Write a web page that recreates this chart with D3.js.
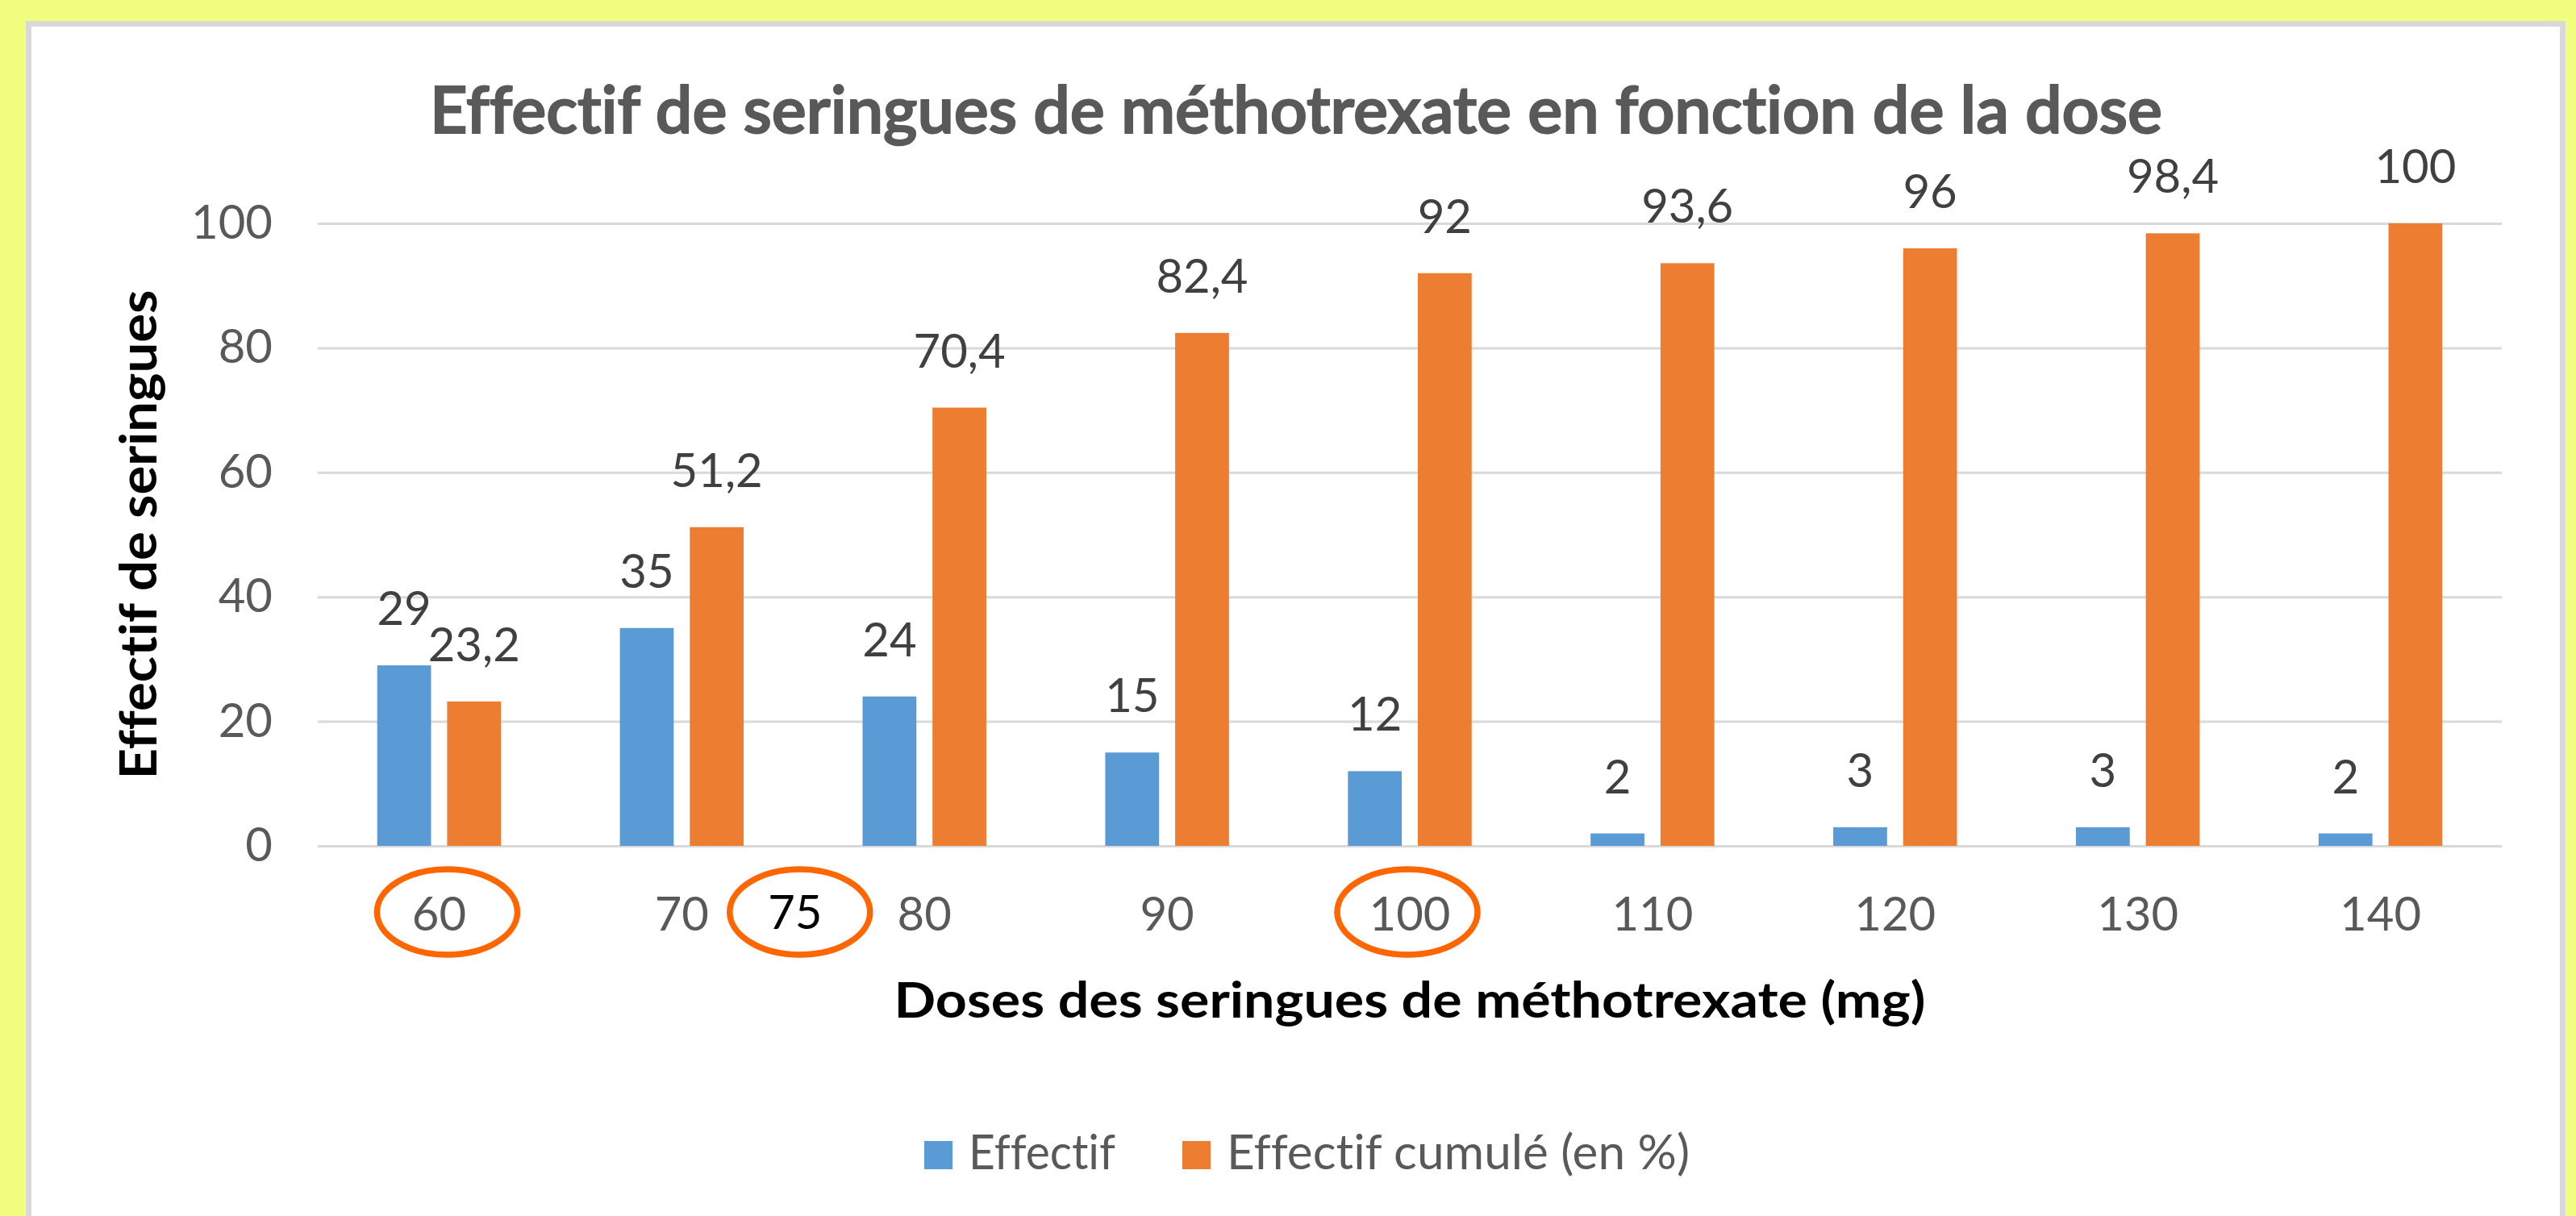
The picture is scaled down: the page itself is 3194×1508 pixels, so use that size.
<!DOCTYPE html>
<html>
<head>
<meta charset="utf-8">
<script src="https://cdn.jsdelivr.net/npm/d3@7"></script>
<style>
  html, body { margin: 0; padding: 0; background: #f3fe80; }
  svg { display: block; }
  svg text { font-variant-ligatures: none; font-feature-settings: "liga" 0; }
</style>
</head>
<body>
<div id="canvas"></div>
<script>
// données
const doses = ["60", "70", "80", "90", "100", "110", "120", "130", "140"];
const effectif = [29, 35, 24, 15, 12, 2, 3, 3, 2];
const effectifCumule = [23.2, 51.2, 70.4, 82.4, 92, 93.6, 96, 98.4, 100];
const seriesNames = ["Effectif", "Effectif cumulé (en %)"];
const yTicks = [0, 20, 40, 60, 80, 100];
// annotations ajoutées à la main (cercles orange)
const circledDoses = ["60", "100"];
const extraDose = "75";

const W = 3194, H = 1508;
const colors = { Effectif: "#5b9bd5", "Effectif cumulé (en %)": "#ed7d31" };
const FONT = "Lato, 'Open Sans', sans-serif";

const svg = d3.select("#canvas").append("svg")
    .attr("width", W)
    .attr("height", H)
    .attr("viewBox", "0 0 " + W + " " + H);

// fond jaune + cadre du graphique
svg.append("rect").attr("width", W).attr("height", H).attr("fill", "#f3fe80");
svg.append("rect")
    .attr("x", 35.5).attr("y", 29.5)
    .attr("width", 3142).attr("height", 1520)
    .attr("fill", "#ffffff")
    .attr("stroke", "#d9d9d9")
    .attr("stroke-width", 7);

const plot = { left: 394, right: 3102, top: 277, bottom: 1049 };

const x0 = d3.scaleBand()
    .domain(doses)
    .range([plot.left, plot.right])
    .paddingInner(0.49)
    .paddingOuter(0.245);

const x1 = d3.scaleBand()
    .domain(seriesNames)
    .range([0, x0.bandwidth()])
    .paddingInner(0.23);

const y = d3.scaleLinear()
    .domain([0, 100])
    .range([plot.bottom, plot.top]);

const rows = doses.map((d, i) => ({
    dose: d,
    values: [
        { key: seriesNames[0], value: effectif[i] },
        { key: seriesNames[1], value: effectifCumule[i] }
    ]
}));

// grille horizontale + étiquettes y
const yAxis = svg.append("g")
    .attr("class", "axis axis--y")
    .attr("transform", "translate(" + plot.left + ",0)")
    .call(d3.axisLeft(y).tickValues(yTicks).tickSize(-(plot.right - plot.left)).tickPadding(56));
yAxis.select(".domain").remove();
yAxis.selectAll("line")
    .attr("stroke", "#d9d9d9")
    .attr("stroke-width", 3);
yAxis.selectAll("text")
    .attr("fill", "#595959")
    .attr("font-family", FONT)
    .attr("font-size", "58px");

// axe x (étiquettes seulement)
const xAxis = svg.append("g")
    .attr("class", "axis axis--x")
    .attr("transform", "translate(0," + plot.bottom + ")")
    .call(d3.axisBottom(x0).tickSize(0).tickPadding(0));
xAxis.select(".domain").remove();
xAxis.selectAll("text")
    .attr("dy", null)
    .attr("y", 105)
    .attr("fill", "#595959")
    .attr("font-family", FONT)
    .attr("font-size", "58px");

// barres
const groups = svg.append("g").selectAll("g")
    .data(rows)
    .enter().append("g")
    .attr("transform", d => "translate(" + x0(d.dose) + ",0)");

groups.selectAll("rect")
    .data(d => d.values)
    .enter().append("rect")
    .attr("x", d => x1(d.key))
    .attr("y", d => y(d.value))
    .attr("width", x1.bandwidth())
    .attr("height", d => y(0) - y(d.value))
    .attr("fill", d => colors[d.key]);

// étiquettes de données
groups.selectAll("text")
    .data(d => d.values)
    .enter().append("text")
    .attr("x", d => x1(d.key) + x1.bandwidth() / 2)
    .attr("y", d => y(d.value) - 50)
    .attr("text-anchor", "middle")
    .attr("fill", "#404040")
    .attr("font-family", FONT)
    .attr("font-size", "58px")
    .text(d => String(d.value).replace(".", ","));

// titre
svg.append("text")
    .attr("x", 1607)
    .attr("y", 165)
    .attr("text-anchor", "middle")
    .attr("fill", "#595959")
    .attr("stroke", "#595959")
    .attr("stroke-width", 2)
    .attr("font-family", FONT)
    .attr("font-weight", "600")
    .attr("font-size", "81px")
    .attr("textLength", 2148)
    .attr("lengthAdjust", "spacingAndGlyphs")
    .text("Effectif de seringues de méthotrexate en fonction de la dose");

// titres des axes
svg.append("text")
    .attr("x", (plot.left + plot.right) / 2)
    .attr("y", 1262)
    .attr("text-anchor", "middle")
    .attr("fill", "#000000")
    .attr("font-family", FONT)
    .attr("font-weight", "bold")
    .attr("font-size", "62px")
    .attr("textLength", 1279)
    .attr("lengthAdjust", "spacingAndGlyphs")
    .text("Doses des seringues de méthotrexate (mg)");

svg.append("text")
    .attr("transform", "translate(194," + (plot.top + plot.bottom) / 2 + ") rotate(-90)")
    .attr("text-anchor", "middle")
    .attr("fill", "#000000")
    .attr("font-family", FONT)
    .attr("font-weight", "bold")
    .attr("font-size", "64px")
    .attr("textLength", 607)
    .attr("lengthAdjust", "spacingAndGlyphs")
    .text("Effectif de seringues");

// légende
const legendItems = [
    { key: seriesNames[0], x: 1146, w: 182 },
    { key: seriesNames[1], x: 1466, w: 574 }
];
const legend = svg.append("g").selectAll("g")
    .data(legendItems)
    .enter().append("g")
    .attr("transform", d => "translate(" + d.x + ",1415)");
legend.append("rect")
    .attr("width", 35)
    .attr("height", 35)
    .attr("fill", d => colors[d.key]);
legend.append("text")
    .attr("x", 55)
    .attr("y", 35)
    .attr("fill", "#595959")
    .attr("font-family", FONT)
    .attr("font-size", "60px")
    .attr("textLength", d => d.w)
    .attr("lengthAdjust", "spacingAndGlyphs")
    .text(d => d.key);

// annotations : cercles orange autour des doses
const center = d => x0(d) + x0.bandwidth() / 2;
const extraX = (center("70") + center("80")) / 2 - 10;

svg.append("text")
    .attr("x", extraX)
    .attr("y", 1152)
    .attr("text-anchor", "middle")
    .attr("fill", "#000000")
    .attr("font-family", FONT)
    .attr("font-size", "58px")
    .text(extraDose);

const ellipses = circledDoses.map(d => ({ cx: center(d) + (d === "60" ? 10 : -3) }))
    .concat([{ cx: extraX + 6 }]);

svg.append("g").selectAll("ellipse")
    .data(ellipses)
    .enter().append("ellipse")
    .attr("cx", d => d.cx)
    .attr("cy", 1131)
    .attr("rx", 87)
    .attr("ry", 53)
    .attr("fill", "none")
    .attr("stroke", "#ff6600")
    .attr("stroke-width", 7.5);
</script>
</body>
</html>
